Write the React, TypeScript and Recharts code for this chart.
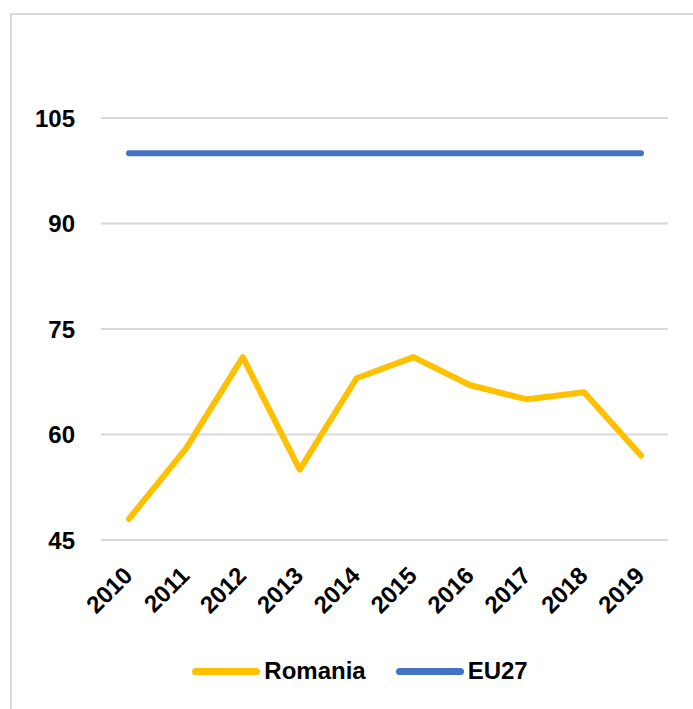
import React from "react";
import { CartesianGrid, Legend, Line, LineChart, XAxis, YAxis } from "recharts";

const years = ["2010", "2011", "2012", "2013", "2014", "2015", "2016", "2017", "2018", "2019"];
const romania = [48, 58, 71, 55, 68, 71, 67, 65, 66, 57];
const eu27 = [100, 100, 100, 100, 100, 100, 100, 100, 100, 100];
const yTicks = [45, 60, 75, 90, 105];

const series = [
  { key: "Romania", color: "#FFC000" },
  { key: "EU27", color: "#4472C4" },
];

const data = years.map((year, i) => ({ year, Romania: romania[i], EU27: eu27[i] }));

const FONT = "'Liberation Sans', Arial, sans-serif";

function YearTick(props: any) {
  const { x, y, payload } = props;
  return (
    <g transform={`translate(${x + 5},${y + 37})`}>
      <text
        x={0}
        y={0}
        textAnchor="end"
        transform="rotate(-45)"
        fontFamily={FONT}
        fontWeight="bold"
        fontSize={24}
        fill="#000"
      >
        {payload.value}
      </text>
    </g>
  );
}

function LegendBox() {
  return (
    <div
      style={{
        height: 30,
        display: "flex",
        justifyContent: "center",
        alignItems: "center",
        marginLeft: 11,
        fontFamily: FONT,
        fontWeight: "bold",
        fontSize: 24,
        color: "#000",
      }}
    >
      {series.map((s, i) => (
        <div key={s.key} style={{ display: "flex", alignItems: "center", marginLeft: i ? 30 : 0 }}>
          <span
            style={{
              display: "inline-block",
              width: 68,
              height: 7,
              borderRadius: 4,
              background: s.color,
              marginRight: 4,
            }}
          />
          <span>{s.key}</span>
        </div>
      ))}
    </div>
  );
}

export default function App() {
  // frame runs off the right and bottom edges, like the cropped reference
  return (
    <div
      style={{
        position: "fixed",
        left: 10,
        top: 13,
        width: 720,
        height: 720,
        borderTop: "2px solid #d9d9d9",
        borderLeft: "2px solid #d9d9d9",
        background: "#fff",
      }}
    >
      <LineChart width={660} height={680} data={data} margin={{ top: 103, right: 4, bottom: 9, left: 29 }}>
        <CartesianGrid vertical={false} stroke="#d9d9d9" strokeWidth={2} />
        <XAxis
          dataKey="year"
          axisLine={false}
          tickLine={false}
          tickSize={0}
          tickMargin={0}
          height={116}
          padding={{ left: 28, right: 27 }}
          interval={0}
          tick={<YearTick />}
        />
        <YAxis
          domain={[45, 105]}
          ticks={yTicks}
          axisLine={false}
          tickLine={false}
          tickSize={0}
          tickMargin={26}
          width={60}
          tick={{ fontFamily: FONT, fontWeight: "bold", fontSize: 24, fill: "#000" }}
        />
        <Legend verticalAlign="bottom" content={<LegendBox />} />
        {series.map((s) => (
          <Line
            key={s.key}
            dataKey={s.key}
            stroke={s.color}
            strokeWidth={6}
            strokeLinecap="round"
            strokeLinejoin="round"
            dot={false}
            activeDot={false}
            isAnimationActive={false}
          />
        ))}
      </LineChart>
    </div>
  );
}
